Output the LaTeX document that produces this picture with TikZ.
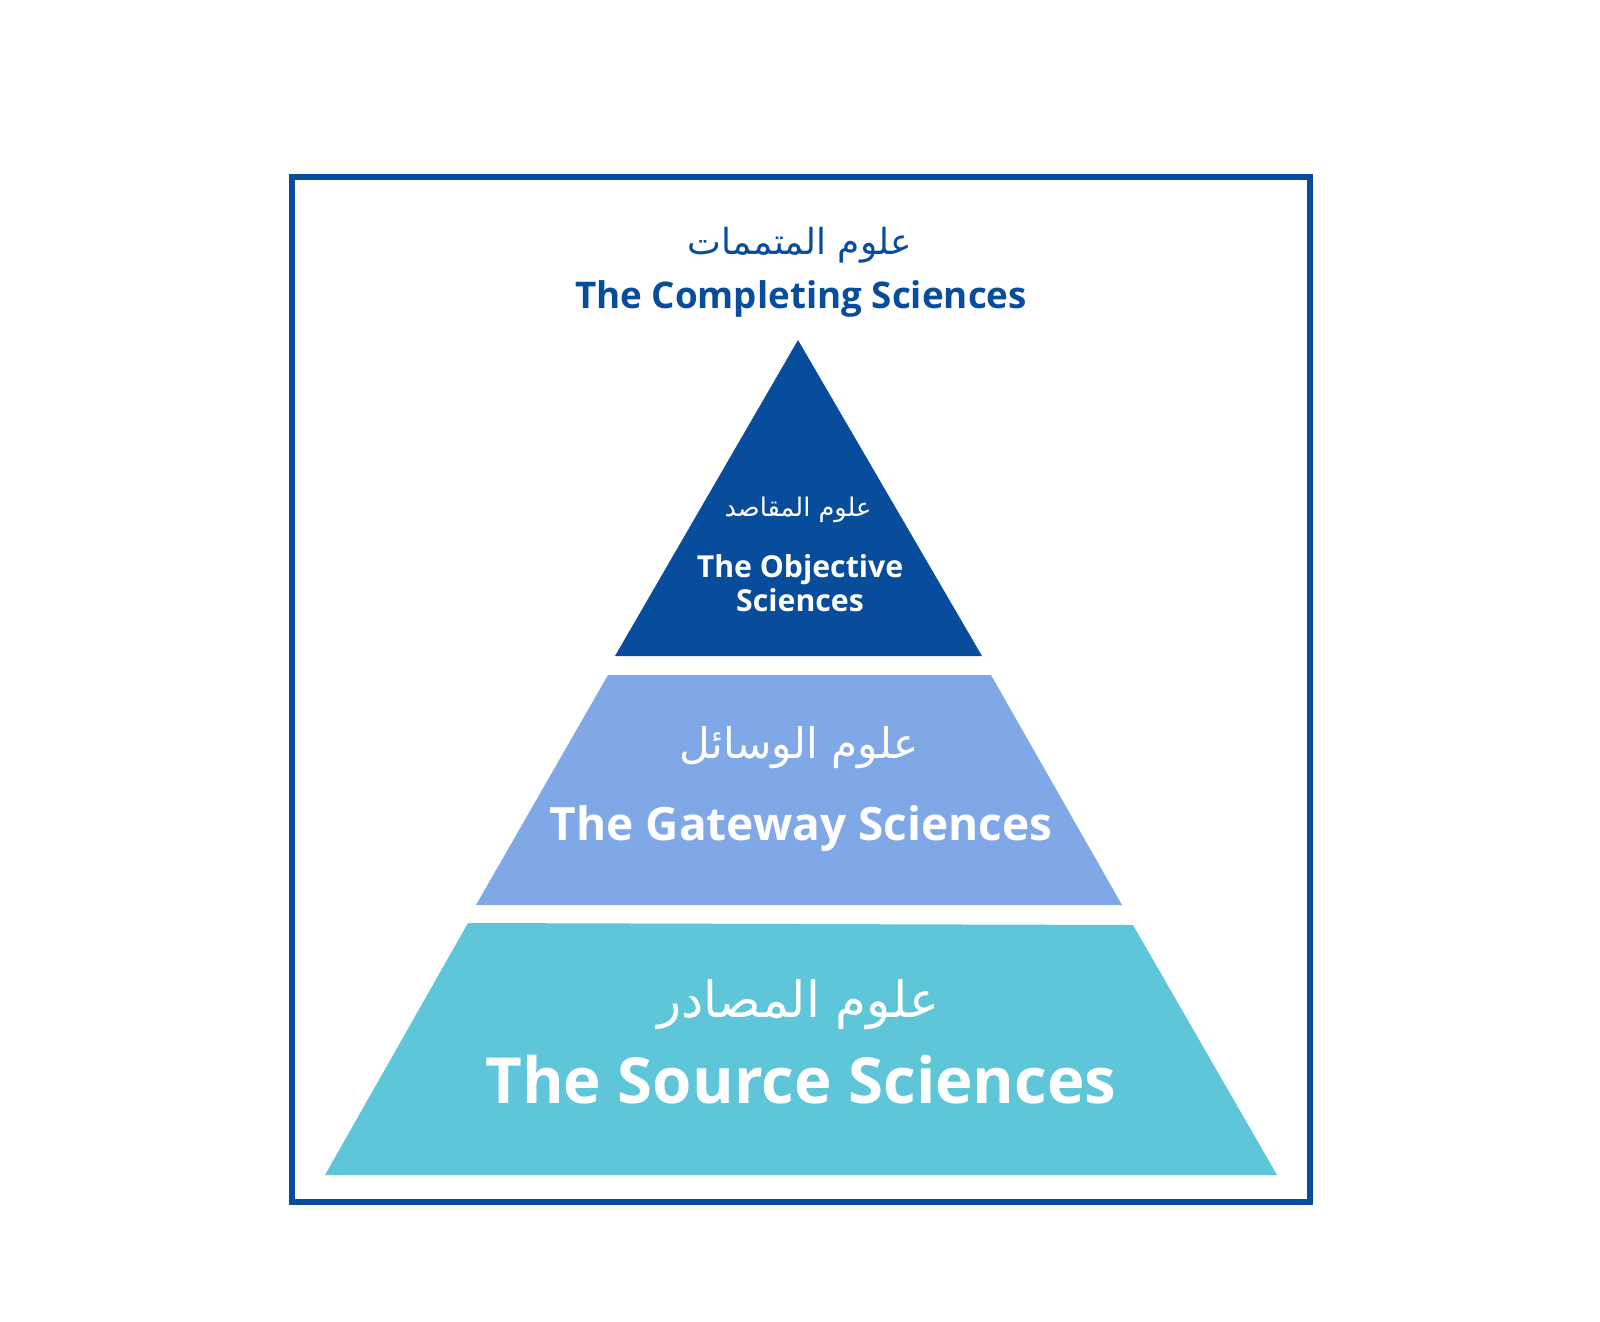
\documentclass[tikz,border=0pt]{standalone}
\usepackage{fontspec}
\setmainfont{Open Sans}
\newfontfamily\arabicfont[Script=Arabic]{DejaVu Sans}
\TeXXeTstate=1

\definecolor{darkblue}{RGB}{8,76,156}
\definecolor{midblue}{RGB}{128,168,230}
\definecolor{teal}{RGB}{94,198,216}

\tikzset{
  entext/.style={font=\bfseries, text=white, align=center, inner sep=0pt},
  artext/.style={text=white, inner sep=0pt}
}

\begin{document}
\begin{tikzpicture}[x=0.01cm,y=-0.01cm]
\useasboundingbox (0,0) rectangle (1600,1321);

% Outer frame
\draw[darkblue, line width=1.6pt] (292,177) rectangle (1310,1202);

% Pyramid tiers
\fill[darkblue] (798,340) -- (982,656) -- (615,656) -- cycle;
\fill[midblue] (608,675) -- (991,675) -- (1122,905) -- (476,905) -- cycle;
\fill[teal] (468,923) -- (1133,925) -- (1277,1175) -- (325,1175) -- cycle;

% Title above the apex
\node[artext, text=darkblue, font=\arabicfont\fontsize{10.2}{12}\selectfont] (complAr) at (800,245) {\beginR علوم المتممات\endR};
\node[entext, text=darkblue, anchor=base, font=\bfseries\fontsize{10.45}{12}\selectfont] (complEn) at (801,308) {The Completing Sciences};

% Top tier
\node[artext, font=\arabicfont\fontsize{7.3}{9}\selectfont] (objAr) at (798,510) {\beginR علوم المقاصد\endR};
\node[entext, font=\bfseries\fontsize{8.6}{8.4}\selectfont] (objEn) at (800,583) {The Objective\\Sciences};

% Middle tier
\node[artext, font=\arabicfont\fontsize{12}{14}\selectfont] (gateAr) at (799,748) {\beginR علوم الوسائل\endR};
\node[entext, anchor=base, font=\bfseries\fontsize{13.07}{15}\selectfont] (gateEn) at (801,840) {The Gateway Sciences};

% Bottom tier
\node[artext, font=\arabicfont\fontsize{14.2}{16}\selectfont] (srcAr) at (798,1005) {\beginR علوم المصادر\endR};
\node[entext, anchor=base, font=\bfseries\fontsize{18.07}{20}\selectfont] (srcEn) at (801,1103) {The Source Sciences};

\end{tikzpicture}
\end{document}
